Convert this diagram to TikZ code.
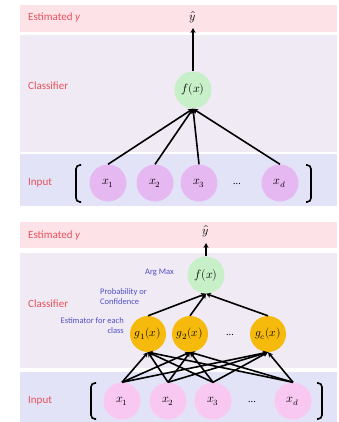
\documentclass[tikz,border=0pt]{standalone}
\usepackage{fontspec}
\setmainfont{Carlito}
\usepackage{unicode-math}
\usetikzlibrary{arrows.meta}
\definecolor{estband}{HTML}{FDE3E7}
\definecolor{clsband}{HTML}{EFEAF3}
\definecolor{inband}{HTML}{E3E3F8}
\definecolor{fgreen}{HTML}{C8F0C8}
\definecolor{xviolet}{HTML}{E6B8F2}
\definecolor{xpink}{HTML}{F9C8F2}
\definecolor{gorange}{HTML}{F6BA0C}
\definecolor{redlab}{HTML}{E8505C}
\definecolor{bluelab}{HTML}{5050C8}
\tikzset{
  band/.style={fill=#1, draw=none},
  sidelabel/.style={text=redlab, font=\fontsize{11}{12}\selectfont, anchor=west, inner sep=0pt},
  notelabel/.style={text=bluelab, font=\fontsize{8.5}{10}\selectfont, inner sep=0pt, align=#1},
  fnode/.style={circle, fill=fgreen, minimum size=37pt, inner sep=0pt, font=\fontsize{12}{12}\selectfont},
  xnode/.style={circle, fill=#1, minimum size=37pt, inner sep=0pt, font=\fontsize{12}{12}\selectfont},
  gnode/.style={circle, fill=gorange, minimum size=36pt, inner sep=0pt, font=\fontsize{11.5}{12}\selectfont},
  conn/.style={line width=1.6pt, -{Stealth[length=5pt,width=5pt]}},
  brk/.style={line width=1.6pt, rounded corners=4pt},
  dotsnode/.style={inner sep=0pt, font=\fontsize{10}{10}\selectfont},
  hatnode/.style={inner sep=0pt, font=\fontsize{12}{12}\selectfont}
}
\begin{document}
\begin{tikzpicture}[x=1pt,y=-1pt]
\useasboundingbox (0,0) rectangle (339,422);
% ---------- top diagram ----------
\fill[band=estband] (20,5) rectangle (337,32);
\fill[band=clsband] (20,35) rectangle (337,152);
\fill[band=inband] (20,154) rectangle (337,206);
\node[sidelabel] (ta) at (28,18) {Estimated \textit{y}};
\node[sidelabel] (tb) at (28,86) {Classifier};
\node[sidelabel] (tc) at (28,183) {Input};
\node[hatnode] (ty) at (193,17) {$\hat{y}$};
\coordinate (tyb) at (193,28);
\node[fnode] (tf) at (193,90) {$f(x)$};
\node[xnode=xviolet] (tx1) at (108,183) {$x_1$};
\node[xnode=xviolet] (tx2) at (155,183) {$x_2$};
\node[xnode=xviolet] (tx3) at (199,183) {$x_3$};
\node[dotsnode] (tdots) at (237,184) {...};
\node[xnode=xviolet] (txd) at (280,183) {$x_d$};
\draw[conn] (tf.north) -- (tyb);
\foreach \n in {tx1,tx2,tx3,txd}{
  \draw[conn] (\n.north) -- (tf.south);
}
\coordinate (tlb1) at (81,165); \coordinate (tlb2) at (76,165);
\coordinate (tlb3) at (76,202); \coordinate (tlb4) at (81,202);
\draw[brk] (tlb1) -- (tlb2) -- (tlb3) -- (tlb4);
\coordinate (trb1) at (306,165); \coordinate (trb2) at (311,165);
\coordinate (trb3) at (311,202); \coordinate (trb4) at (306,202);
\draw[brk] (trb1) -- (trb2) -- (trb3) -- (trb4);
% ---------- bottom diagram ----------
\fill[band=estband] (20,222) rectangle (337,248);
\fill[band=clsband] (20,253) rectangle (337,368);
\fill[band=inband] (20,372) rectangle (337,422);
\node[sidelabel] (ba) at (28,236) {Estimated \textit{y}};
\node[sidelabel] (bb) at (28,304) {Classifier};
\node[sidelabel] (bc) at (28,401) {Input};
\node[hatnode] (by) at (206,231) {$\hat{y}$};
\coordinate (byb) at (206,243);
\node[fnode] (bf) at (206,275) {$f(x)$};
\node[notelabel=right, anchor=east] (am) at (174,273) {Arg Max};
\node[notelabel=left, anchor=north west] (pc) at (100,288) {Probability or\\Confidence};
\node[notelabel=right, anchor=north east] (ec) at (124,317) {Estimator for each\\class};
\node[gnode] (g1) at (148,334) {$g_1(x)$};
\node[gnode] (g2) at (190,334) {$g_2(x)$};
\node[dotsnode] (gdots) at (230,335) {...};
\node[gnode] (gc) at (268,334) {$g_c(x)$};
\draw[conn] (bf.north) -- (byb);
\foreach \n in {g1,g2,gc}{
  \draw[conn] (\n.north) -- (bf.south);
}
\node[xnode=xpink] (bx1) at (122,401) {$x_1$};
\node[xnode=xpink] (bx2) at (168,401) {$x_2$};
\node[xnode=xpink] (bx3) at (213,401) {$x_3$};
\node[dotsnode] (bdots) at (252,402) {...};
\node[xnode=xpink] (bxd) at (293,401) {$x_d$};
\foreach \a in {bx1,bx2,bx3,bxd}{
  \foreach \b in {g1,g2,gc}{
    \draw[conn] (\a.north) -- (\b.south);
  }
}
\coordinate (blb1) at (96,383); \coordinate (blb2) at (91,383);
\coordinate (blb3) at (91,419); \coordinate (blb4) at (96,419);
\draw[brk] (blb1) -- (blb2) -- (blb3) -- (blb4);
\coordinate (brb1) at (317,383); \coordinate (brb2) at (322,383);
\coordinate (brb3) at (322,419); \coordinate (brb4) at (317,419);
\draw[brk] (brb1) -- (brb2) -- (brb3) -- (brb4);
\end{tikzpicture}
\end{document}
